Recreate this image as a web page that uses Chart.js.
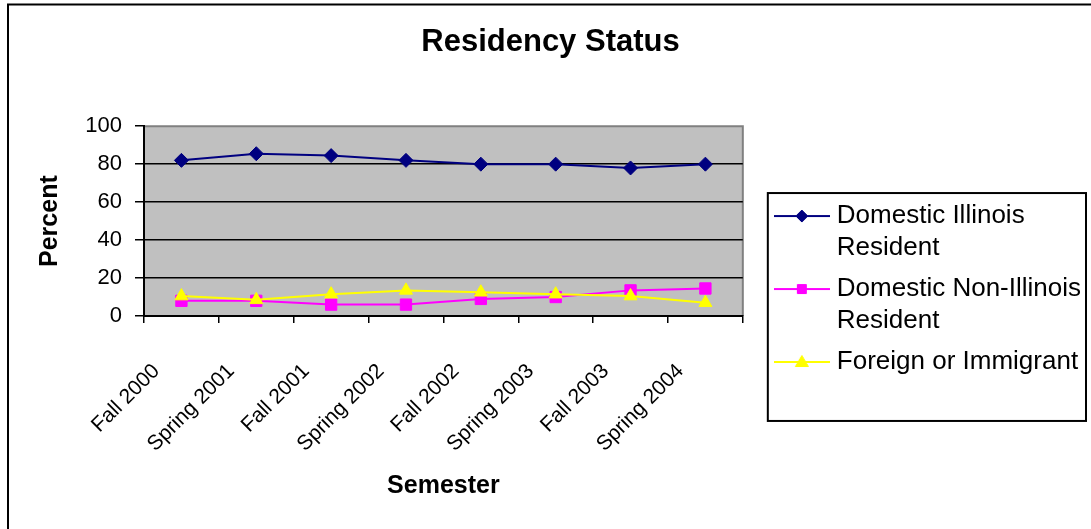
<!DOCTYPE html>
<html><head><meta charset="utf-8">
<script src="https://cdn.jsdelivr.net/npm/chart.js@4/dist/chart.umd.min.js"></script>
<style>
html,body{margin:0;padding:0;background:#fff;}
canvas{display:block;}
</style></head><body>
<canvas id="c" width="1091" height="529"></canvas>
<script>
// ---- data ----
const categories = ['Fall 2000', 'Spring 2001', 'Fall 2001', 'Spring 2002', 'Fall 2002', 'Spring 2003', 'Fall 2003', 'Spring 2004'];
const illinois = [82, 85.5, 84.5, 82, 80, 80, 78, 80];
const nonIllinois = [8, 8, 6, 6, 9, 10, 13.5, 14.5];
const foreign = [10.5, 8.5, 11.5, 13.5, 12.5, 11.5, 10.5, 7];
const seriesLabels = [['Domestic Illinois', 'Resident'], ['Domestic Non-Illinois', 'Resident'], ['Foreign or Immigrant']];
const yTickValues = [0, 20, 40, 60, 80, 100];

Chart.defaults.font.family = "'Liberation Sans', Arial, sans-serif";
Chart.defaults.color = '#000';

function legendIcon(color, style) {
  const c = document.createElement('canvas');
  c.width = 56; c.height = 18;
  const g = c.getContext('2d');
  g.strokeStyle = color; g.lineWidth = 2;
  g.beginPath(); g.moveTo(0, 9); g.lineTo(56, 9); g.stroke();
  g.fillStyle = color; g.lineWidth = 1;
  g.beginPath();
  if (style === 'rectRot') { g.moveTo(22, 9); g.lineTo(28, 3); g.lineTo(34, 9); g.lineTo(28, 15); }
  else if (style === 'rect') { g.rect(23.5, 4.5, 9, 9); }
  else { g.moveTo(28, 2.5); g.lineTo(34.5, 13.5); g.lineTo(21.5, 13.5); }
  g.closePath(); g.fill(); g.stroke();
  return c;
}

const frame = {
  id: 'frame',
  beforeDraw(chart) {
    const {ctx, chartArea: a} = chart;
    ctx.save();
    ctx.fillStyle = '#fff';
    ctx.fillRect(0, 0, chart.width, chart.height);
    ctx.strokeStyle = '#000'; ctx.lineWidth = 2;
    ctx.beginPath(); ctx.moveTo(8, chart.height + 5); ctx.lineTo(8, 4.5); ctx.lineTo(chart.width + 5, 4.5); ctx.stroke();
    ctx.fillStyle = '#C0C0C0';
    ctx.fillRect(a.left, a.top, a.width, a.height);
    ctx.strokeStyle = '#808080'; ctx.lineWidth = 2;
    ctx.beginPath(); ctx.moveTo(a.left, a.top); ctx.lineTo(a.right, a.top); ctx.lineTo(a.right, a.bottom); ctx.stroke();
    ctx.restore();
  },
  afterDraw(chart) {
    const lg = chart.legend;
    if (!lg || !lg.legendHitBoxes || !lg.legendHitBoxes.length) return;
    const hb = lg.legendHitBoxes;
    const first = hb[0], last = hb[hb.length - 1];
    const ctx = chart.ctx;
    ctx.save();
    ctx.strokeStyle = '#000'; ctx.lineWidth = 2;
    const l = lg.left - 3, r = lg.right - 5, t = first.top - 10, b = last.top + last.height + 40;
    ctx.strokeRect(l, t, r - l, b - t);
    ctx.restore();
  }
};

const styles = [
  {color: '#000080', point: 'rectRot', radius: 7},
  {color: '#FF00FF', point: 'rect', radius: 8},
  {color: '#FFFF00', point: 'triangle', radius: 7.5}
];
const seriesData = [illinois, nonIllinois, foreign];

new Chart(document.getElementById('c'), {
  type: 'line',
  data: {
    labels: categories,
    datasets: seriesData.map((d, i) => ({
      label: seriesLabels[i].join(' '),
      data: d,
      borderColor: styles[i].color,
      backgroundColor: styles[i].color,
      pointBackgroundColor: styles[i].color,
      pointBorderColor: styles[i].color,
      pointStyle: styles[i].point,
      pointRadius: styles[i].radius,
      pointBorderWidth: 1,
      borderWidth: 2,
      tension: 0,
      fill: false,
      order: 2 - i,
      yAxisID: 'y'
    }))
  },
  options: {
    responsive: false,
    animation: false,
    layout: {padding: {left: 10, right: 0, top: 0, bottom: 0}},
    plugins: {
      tooltip: {enabled: false},
      title: {
        display: true, text: 'Residency Status', color: '#000',
        font: {size: 31, weight: 'bold', lineHeight: 1.2},
        padding: {top: 24, bottom: 65}
      },
      legend: {
        position: 'right', align: 'center', maxWidth: 420,
        title: {display: true, text: '', padding: {top: 45, bottom: 0}, font: {size: 10, lineHeight: 1}},
        labels: {
          usePointStyle: true, pointStyleWidth: 44, padding: 9, color: '#000',
          font: {size: 26, lineHeight: 1.23},
          generateLabels(chart) {
            return chart.data.datasets.map((ds, i) => ({
              text: seriesLabels[i],
              fillStyle: styles[i].color,
              strokeStyle: styles[i].color,
              fontColor: '#000',
              lineWidth: 1,
              pointStyle: legendIcon(styles[i].color, styles[i].point),
              hidden: false,
              datasetIndex: i
            }));
          }
        }
      }
    },
    scales: {
      x: {
        type: 'category', offset: true,
        grid: {offset: true, drawOnChartArea: false, drawTicks: true, tickLength: 7, color: '#000', lineWidth: 1.5},
        border: {display: true, color: '#000', width: 2},
        ticks: {autoSkip: false, minRotation: 45, maxRotation: 45, padding: 36, labelOffset: -25, color: '#000', font: {size: 21}},
        title: {display: true, text: 'Semester', color: '#000', font: {size: 25, weight: 'bold'}, padding: {top: 0, bottom: 28}},
        afterFit(s) { s.height = 213; }
      },
      y: {
        min: 0, max: 100,
        afterBuildTicks(s) { s.ticks = yTickValues.map(v => ({value: v})); },
        ticks: {padding: 13, color: '#000', font: {size: 22}},
        grid: {
          color: c => (c.tick && c.tick.value === 100) ? 'rgba(0,0,0,0)' : '#000',
          tickColor: '#000', lineWidth: 1.5, tickLength: 9, drawTicks: true
        },
        border: {display: true, color: '#000', width: 2},
        title: {display: true, text: 'Percent', color: '#000', font: {size: 25, weight: 'bold'}, padding: {top: 25, bottom: 0}},
        afterFit(s) { s.width = 134; }
      },
      gap: {
        type: 'linear', position: 'right', display: true,
        grid: {display: false}, ticks: {display: false}, border: {display: false},
        afterFit(s) { s.width = 28; }
      }
    }
  },
  plugins: [frame]
});
</script>
</body></html>
